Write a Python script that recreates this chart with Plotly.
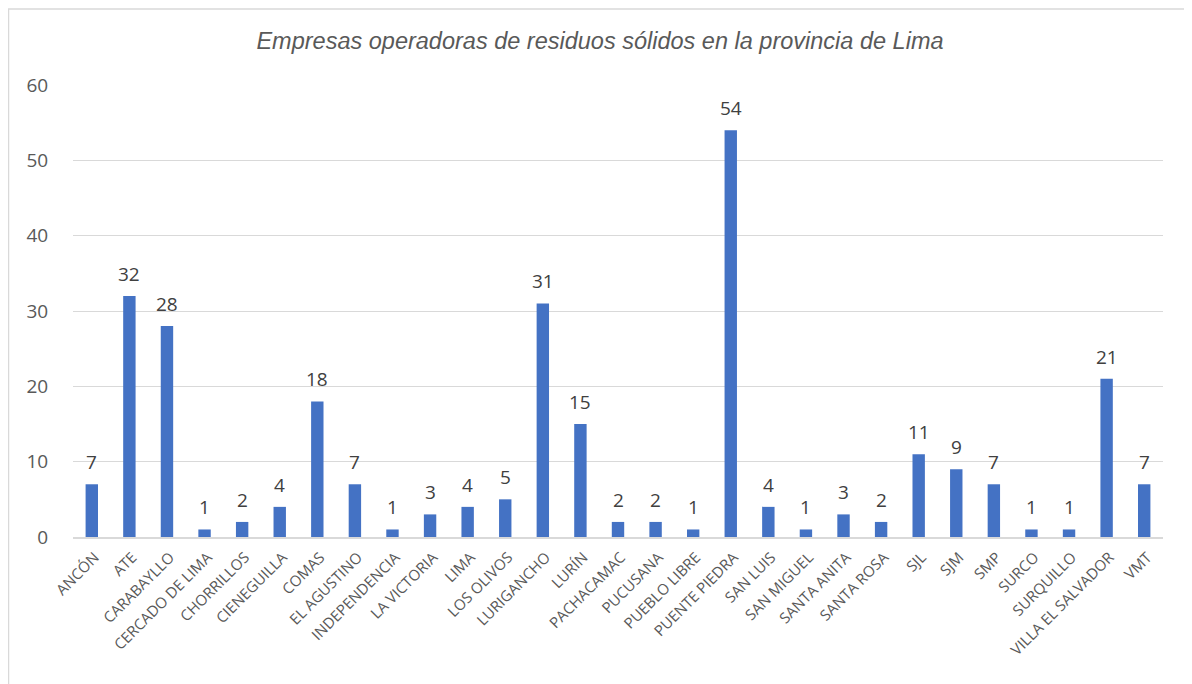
import plotly.graph_objects as go

categories = ["ANCÓN", "ATE", "CARABAYLLO", "CERCADO DE LIMA", "CHORRILLOS", "CIENEGUILLA",
              "COMAS", "EL AGUSTINO", "INDEPENDENCIA", "LA VICTORIA", "LIMA", "LOS OLIVOS",
              "LURIGANCHO", "LURÍN", "PACHACAMAC", "PUCUSANA", "PUEBLO LIBRE", "PUENTE PIEDRA",
              "SAN LUIS", "SAN MIGUEL", "SANTA ANITA", "SANTA ROSA", "SJL", "SJM", "SMP",
              "SURCO", "SURQUILLO", "VILLA EL SALVADOR", "VMT"]
values = [7, 32, 28, 1, 2, 4, 18, 7, 1, 3, 4, 5, 31, 15, 2, 2, 1, 54, 4, 1, 3, 2, 11, 9, 7, 1, 1, 21, 7]
title_text = "Empresas operadoras de residuos sólidos en la provincia de Lima"
y_ticks = [0, 10, 20, 30, 40, 50, 60]

# page has 8px body margin; plot area target on screen: x 73..1163, y 85..537
fig = go.Figure()
fig.add_trace(go.Bar(
    x=categories, y=values,
    marker=dict(color="#4472C4", line=dict(width=0)),
    width=0.33,
    hoverinfo="x+y",
))

for c, v in zip(categories, values):
    fig.add_annotation(x=c, y=v, text=str(v), showarrow=False, yanchor="bottom", yshift=7,
                       font=dict(family="Open Sans, Noto Sans, sans-serif", size=19, color="#404040"))

# chart border
fig.add_shape(type="rect", xref="paper", yref="paper",
              x0=(8.5 - 73) / 1090, x1=(1210 - 73) / 1090,
              y0=-(720 - 537) / 452, y1=1 + (85 - 9) / 452,
              line=dict(color="#D9D9D9", width=1.5), layer="below")

fig.update_layout(
    width=1192, height=684,
    margin=dict(l=65, r=37, t=77, b=155, autoexpand=False),
    paper_bgcolor="white", plot_bgcolor="white",
    showlegend=False,
    title=dict(text=title_text, x=(600 - 8) / 1192, xanchor="center", y=1 - 33 / 684, yanchor="middle",
               font=dict(family="Liberation Sans, Arial, sans-serif", size=23.5, color="#595959",
                         style="italic")),
    xaxis=dict(
        type="category", tickangle=-45, showgrid=False,
        tickfont=dict(family="Open Sans, Noto Sans, sans-serif", size=15, color="#595959"),
        showline=True, linecolor="#D9D9D9", linewidth=1.5,
        ticks="", range=[-0.5, len(categories) - 0.5],
        ticklabelshift=3, ticklabelstandoff=4,
    ),
    yaxis=dict(
        range=[0, 60], tickvals=y_ticks, showgrid=True, gridcolor="#D9D9D9", gridwidth=1,
        zeroline=False, showline=False,
        tickfont=dict(family="Open Sans, Noto Sans, sans-serif", size=19, color="#595959"),
        ticks="outside", ticklen=20, tickcolor="rgba(0,0,0,0)",
    ),
)

fig.write_html("out.html")
